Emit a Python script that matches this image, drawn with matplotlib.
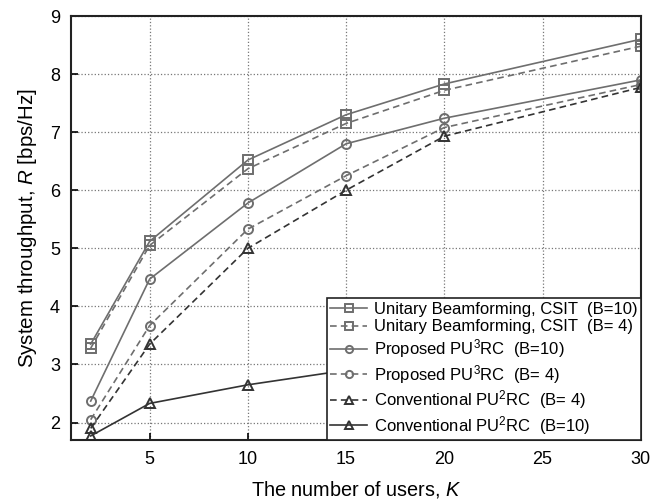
import matplotlib.pyplot as plt

plt.rcParams['font.family'] = ['Liberation Sans', 'DejaVu Sans']
plt.rcParams['mathtext.fontset'] = 'custom'
plt.rcParams['mathtext.rm'] = 'Liberation Sans'
plt.rcParams['mathtext.it'] = 'Liberation Sans:italic'

# number of users
K = [2, 5, 10, 15, 20, 30]

ub_b10 = [3.35, 5.12, 6.52, 7.30, 7.83, 8.60]
ub_b4 = [3.28, 5.05, 6.37, 7.15, 7.72, 8.48]
prop_b10 = [2.37, 4.47, 5.78, 6.80, 7.24, 7.90]
prop_b4 = [2.05, 3.67, 5.33, 6.25, 7.08, 7.82]
conv_b4 = [1.90, 3.35, 5.00, 6.00, 6.93, 7.77]
conv_b10 = [1.77, 2.33, 2.65, 2.90, 3.10, 3.40]

labels = [
    'Unitary Beamforming, CSIT  (B=10)',
    'Unitary Beamforming, CSIT  (B= 4)',
    r'Proposed PU$^\mathrm{3}$RC  (B=10)',
    r'Proposed PU$^\mathrm{3}$RC  (B= 4)',
    r'Conventional PU$^\mathrm{2}$RC  (B= 4)',
    r'Conventional PU$^\mathrm{2}$RC  (B=10)',
]

fig = plt.figure(figsize=(6.64, 5), dpi=100)
ax = fig.add_axes([0.107, 0.12, 0.858, 0.848])

light = '#6e6e6e'
dark = '#333333'
dash = (0, (4, 2.5))
kw = dict(lw=1.2, ms=6.5, mfc='none', mew=1.4)

ax.plot(K, ub_b10, color=light, ls='-', marker='s', label=labels[0], **kw)
ax.plot(K, ub_b4, color=light, ls=dash, marker='s', label=labels[1], **kw)
ax.plot(K, prop_b10, color=light, ls='-', marker='o', label=labels[2], **kw)
ax.plot(K, prop_b4, color=light, ls=dash, marker='o', label=labels[3], **kw)
ax.plot(K, conv_b4, color=dark, ls=dash, marker='^', label=labels[4], **kw)
ax.plot(K, conv_b10, color=dark, ls='-', marker='^', label=labels[5], **kw)

ax.set_xlim(1, 30)
ax.set_ylim(1.7, 9)
ax.set_xticks([5, 10, 15, 20, 25, 30])
ax.set_yticks([2, 3, 4, 5, 6, 7, 8, 9])
ax.grid(True, ls=':', color='#777777', lw=0.9)
ax.tick_params(direction='in', length=5, width=1.2, labelsize=13, pad=8)
for s in ax.spines.values():
    s.set_linewidth(1.5)
    s.set_color('#222222')

ax.set_xlabel('The number of users, $K$', fontsize=14.3, labelpad=8)
ax.set_ylabel('System throughput, $R$ [bps/Hz]', fontsize=14.8, labelpad=8)

leg = ax.legend(loc='lower right', fontsize=12, fancybox=False, framealpha=1,
                edgecolor='#222222', borderpad=0.2, labelspacing=0.16,
                handlelength=2.2, handletextpad=0.4, borderaxespad=0,
                markerscale=0.8)
leg.get_frame().set_linewidth(1.2)

fig.savefig('out.png', dpi=100)
